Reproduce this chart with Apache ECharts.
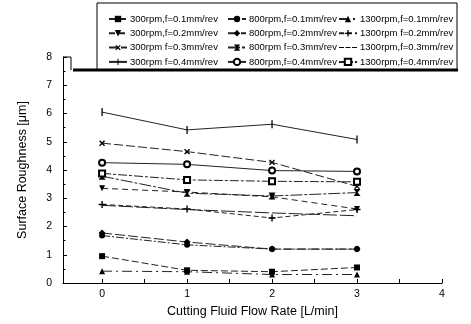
<!doctype html>
<html>
<head>
<meta charset="utf-8">
<title>Surface Roughness vs Cutting Fluid Flow Rate</title>
<script src="https://cdn.jsdelivr.net/npm/echarts@6.0.0/dist/echarts.min.js"></script>
<style>
  html, body { margin: 0; padding: 0; background: #fff; }
  #main { width: 471px; height: 324px; }
</style>
</head>
<body>
<div id="main"></div>
<script type="text/javascript">
// flow rate, L/min
var flowRate = [0, 1, 2, 3];

// surface roughness, um  (rpm / feed)
var r300f01  = [0.95, 0.45, 0.40, 0.55];
var r800f01  = [1.68, 1.35, 1.20, 1.20];
var r1300f01 = [0.42, 0.40, 0.30, 0.30];
var r300f02  = [3.35, 3.22, 3.05, 2.62];
var r800f02  = [1.77, 1.45, 1.20, 1.20];
var r1300f02 = [2.78, 2.62, 2.30, 2.60];
var r300f03  = [4.95, 4.65, 4.27, 3.42];
var r800f03  = [3.78, 3.18, 3.08, 3.20];
var r1300f03 = [2.75, 2.60, 2.48, 2.38];
var r300f04  = [6.05, 5.42, 5.62, 5.08];
var r800f04  = [4.26, 4.20, 3.98, 3.95];
var r1300f04 = [3.88, 3.65, 3.60, 3.58];

var xTicks  = [0, 0.5, 1, 1.5, 2, 2.5, 3, 3.5, 4];
var xLabels = [0, 1, 2, 3, 4];

// symbols (square bounding boxes so the legend does not stretch them)
var PLUS  = 'path://M4,0 H6 V4 H10 V6 H6 V10 H4 V6 H0 V4 H4 Z';
var BAR   = 'path://M4.2,0 H5.8 V10 H4.2 Z M0,0 H0.05 V0.05 H0 Z M9.95,9.95 H10 V10 H9.95 Z';
var HOUR  = 'path://M0,0 H10 L6,5 L10,10 H0 L4,5 Z';
// legend icon for the line-only series: three dashes in an 18x8 box
var DASHES = 'path://M0,3.5 H5 V4.5 H0 Z M6.5,3.5 H11.5 V4.5 H6.5 Z M13,3.5 H18 V4.5 H13 Z' +
             ' M0,0 H0.02 V0.02 H0 Z M17.98,7.98 H18 V8 H17.98 Z';

function pts(arr) {
  return flowRate.map(function (x, i) { return [x, arr[i]]; });
}

function line(name, arr, symbol, opts) {
  opts = opts || {};
  return {
    name: name,
    type: 'line',
    data: pts(arr),
    symbol: symbol,
    symbolSize: opts.size || 6,
    symbolRotate: opts.rotate || 0,
    showSymbol: symbol !== 'none',
    itemStyle: { color: '#000', borderColor: '#000', borderWidth: opts.border || 0 },
    lineStyle: { color: '#222', width: 1, type: opts.dash || 'solid' },
    emphasis: { disabled: true },
    animation: false
  };
}

var series = [
  line('300rpm,f=0.1mm/rev',  r300f01,  'rect',  { dash: [7, 3] }),
  line('300rpm,f=0.2mm/rev',  r300f02,  'triangle', { rotate: 180, dash: [6, 4] }),
  line('300rpm f=0.3mm/rev',  r300f03,  PLUS,    { rotate: 45, size: 7, dash: [9, 3] }),
  line('300rpm f=0.4mm/rev',  r300f04,  BAR,     { size: 8, dash: 'solid' }),
  line('800rpm,f=0.1mm/rev',  r800f01,  'circle',  { dash: [8, 2, 2, 2] }),
  line('800rpm,f=0.2mm/rev',  r800f02,  'diamond', { size: 7, dash: [10, 3] }),
  line('800rpm f=0.3mm/rev',  r800f03,  HOUR,    { size: 7, dash: [12, 2, 3, 2] }),
  line('800rpm,f=0.4mm/rev',  r800f04,  'emptyCircle', { size: 6, dash: 'solid' }),
  line('1300rpm,f=0.1mm/rev', r1300f01, 'triangle', { dash: [10, 4, 2, 4] }),
  line('1300rpm f=0.2mm/rev', r1300f02, PLUS,    { size: 7, dash: [5, 3] }),
  line('1300rpm,f=0.3mm/rev', r1300f03, 'none',  { dash: [14, 3] }),
  line('1300rpm,f=0.4mm/rev', r1300f04, 'emptyRect', { size: 6, dash: [9, 2, 3, 2] })
];

function legendCol(left, list) {
  return {
    orient: 'vertical',
    left: left,
    top: 8,
    itemWidth: 18,
    itemHeight: 8,
    itemGap: 2.3,
    selectedMode: false,
    textStyle: { fontFamily: 'Liberation Sans, Arial', fontSize: 9.5, color: '#000', lineHeight: 12, padding: [0, 0, 0, -2] },
    data: list.map(function (s) {
      return s.symbol === 'none' ? { name: s.name, icon: DASHES } : s.name;
    })
  };
}

var myChart = echarts.init(document.getElementById('main'), null, { renderer: 'canvas' });

var option = {
  backgroundColor: '#fff',
  animation: false,
  grid: { left: 63, right: 29, top: 57, bottom: 41 },
  legend: [
    legendCol(103, series.slice(0, 4)),
    legendCol(222, series.slice(4, 8)),
    legendCol(333, series.slice(8, 12))
  ],
  graphic: [
    { type: 'rect', shape: { x: 97, y: 3, width: 360, height: 67 }, style: { fill: 'none', stroke: '#000', lineWidth: 1 }, z: 10 },
    { type: 'line', shape: { x1: 73, y1: 70, x2: 458, y2: 70 }, style: { stroke: '#000', lineWidth: 3 }, z: 10 },
    { type: 'line', shape: { x1: 63, y1: 57, x2: 71, y2: 57 }, style: { stroke: '#000', lineWidth: 1 }, z: 10 },
    { type: 'line', shape: { x1: 71, y1: 57, x2: 71, y2: 70 }, style: { stroke: '#000', lineWidth: 1 }, z: 10 }
  ],
  xAxis: {
    type: 'value',
    min: -0.46,
    max: 4,
    name: 'Cutting Fluid Flow Rate [L/min]',
    nameLocation: 'middle',
    nameGap: 17,
    nameTextStyle: { fontFamily: 'Liberation Sans, Arial', fontSize: 12.5, color: '#000' },
    axisLine: { onZero: false, lineStyle: { color: '#000', width: 1 } },
    axisTick: { inside: true, length: 4, customValues: xTicks, lineStyle: { color: '#000' } },
    axisLabel: { customValues: xLabels, color: '#000', fontFamily: 'Liberation Sans, Arial', fontSize: 10.5, margin: 6 },
    splitLine: { show: false }
  },
  yAxis: {
    type: 'value',
    min: 0,
    max: 8,
    interval: 1,
    name: 'Surface Roughness [\u03bcm]',
    nameLocation: 'middle',
    nameGap: 34,
    nameTextStyle: { fontFamily: 'Liberation Sans, Arial', fontSize: 12.5, color: '#000' },
    axisLine: { show: true, onZero: false, lineStyle: { color: '#000', width: 1 } },
    axisTick: { inside: true, length: 4, lineStyle: { color: '#000' } },
    minorTick: { show: true, splitNumber: 2, length: 2.5, lineStyle: { color: '#000' } },
    axisLabel: { color: '#000', fontFamily: 'Liberation Sans, Arial', fontSize: 10.5, margin: 11 },
    splitLine: { show: false }
  },
  series: series
};
myChart.setOption(option);
</script>
</body>
</html>
